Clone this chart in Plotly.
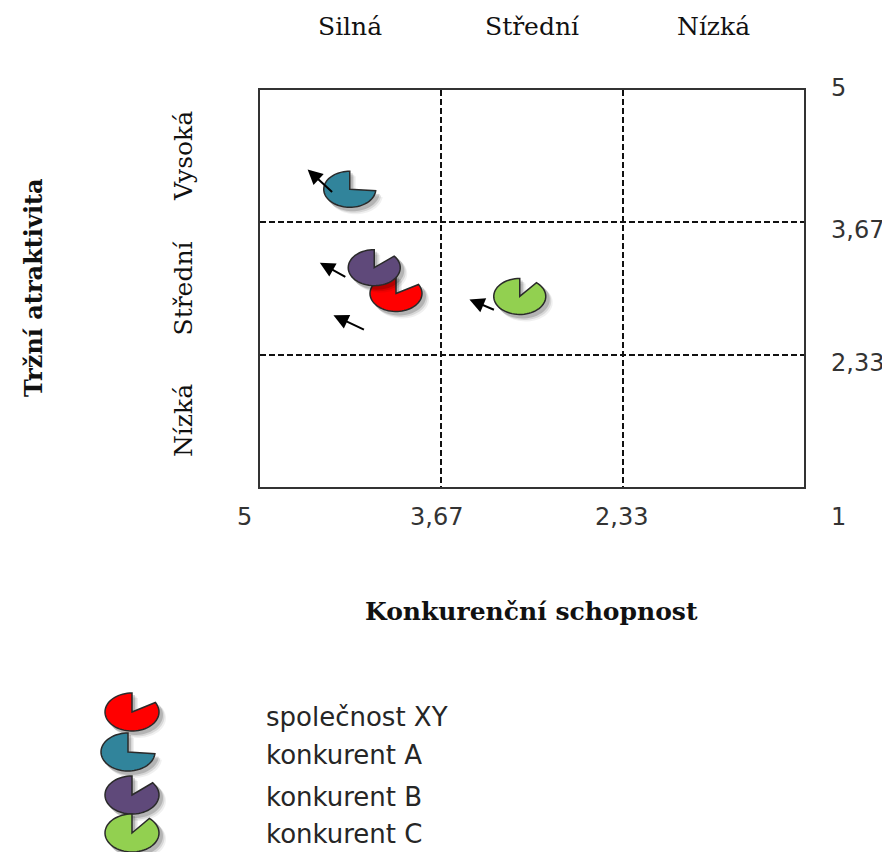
import numpy as np
import plotly.graph_objects as go

# ---------------- data ----------------
names = ["společnost XY", "konkurent A", "konkurent B", "konkurent C"]
competitiveness = [4.00, 4.34, 4.16, 3.09]      # Konkurenční schopnost (x)
attractiveness = [2.95, 4.00, 3.21, 2.92]       # Tržní atraktivita (y)
missing_slice_deg = [60, 95, 50, 40]            # missing wedge of each pie marker
colors = ["#FF0000", "#31849B", "#5F497A", "#92D050"]

arrow_head_x = [4.46, 4.65, 4.56, 3.46]
arrow_head_y = [2.73, 4.20, 3.26, 2.89]

x_ticks = [5, 3.67, 2.33, 1]
x_ticklabels = ["5", "3,67", "2,33", "1"]
y_ticks = [5, 3.67, 2.33]
y_ticklabels = ["5", "3,67", "2,33"]
boundaries = [5, 3.67, 2.33, 1]
col_labels = ["Silná", "Střední", "Nízká"]
row_labels = ["Vysoká", "Střední", "Nízká"]

# ---------------- layout constants ----------------
OFF = 8                       # page body margin of the browser
W, H = 890 - OFF, 852 - OFF
L, T = 260 - OFF, 90 - OFF
PW, PH = 544, 397
R, B = W - L - PW, H - T - PH
X_RANGE = [5, 1]
Y_RANGE = [1, 5]
kx = abs(X_RANGE[0] - X_RANGE[1]) / PW
ky = abs(Y_RANGE[1] - Y_RANGE[0]) / PH


def pp(px, py):
    """window pixel -> paper coordinates"""
    px -= OFF
    py -= OFF
    return (px - L) / PW, (T + PH - py) / PH


def pac_path_data(cx, cy, rx, ry, miss, ox=0, oy=0):
    th = np.radians(np.linspace(90 - miss, -270, 60))
    cxp = cx - ox * kx
    cyp = cy - oy * ky
    pts = [f"M {cxp},{cyp}"]
    for t in th:
        pts.append(f"L {cxp - rx * np.cos(t) * kx},{cyp + ry * np.sin(t) * ky}")
    return " ".join(pts) + " Z"


def pac_path_paper(px, py, rx, ry, miss, ox=0, oy=0):
    th = np.radians(np.linspace(90 - miss, -270, 60))
    cx, cy = pp(px + ox, py + oy)
    pts = [f"M {cx},{cy}"]
    for t in th:
        pts.append(f"L {cx + rx * np.cos(t) / PW},{cy + ry * np.sin(t) / PH}")
    return " ".join(pts) + " Z"


shadow_layers = [(6, 6, 0.06), (4.5, 4.5, 0.10), (3, 3, 0.16)]
RX, RY = 26, 18

shapes = []
for x, y, m, c in zip(competitiveness, attractiveness, missing_slice_deg, colors):
    for ox, oy, a in shadow_layers:
        shapes.append(dict(type="path", xref="x", yref="y",
                           path=pac_path_data(x, y, RX + 1, RY + 1, m, ox, oy),
                           fillcolor=f"rgba(0,0,0,{a})", line=dict(width=0)))
    shapes.append(dict(type="path", xref="x", yref="y",
                       path=pac_path_data(x, y, RX, RY, m),
                       fillcolor=c, line=dict(color="#2a2a2a", width=1.5)))

# legend icons
legend_icon_px = [(132, 712), (128, 752), (132, 795), (132, 833)]
legend_text_py = [717, 755, 797, 834]
for (px, py), m, c in zip(legend_icon_px, missing_slice_deg, colors):
    for ox, oy, a in shadow_layers:
        shapes.append(dict(type="path", xref="paper", yref="paper",
                           path=pac_path_paper(px, py, 28, 20, m, ox, oy),
                           fillcolor=f"rgba(0,0,0,{a})", line=dict(width=0)))
    shapes.append(dict(type="path", xref="paper", yref="paper",
                       path=pac_path_paper(px, py, 27, 19, m),
                       fillcolor=c, line=dict(color="#2a2a2a", width=1.5)))

annotations = []
# arrows
arrow_tail_offsets = [(32, 15), (26, 24), (27, 15), (26, 11)]
for hx, hy, (ax, ay) in zip(arrow_head_x, arrow_head_y, arrow_tail_offsets):
    annotations.append(dict(x=hx, y=hy, xref="x", yref="y", ax=ax, ay=ay,
                            showarrow=True, arrowhead=2, arrowsize=1.5,
                            arrowwidth=2, arrowcolor="#000000", text=""))

num_font = dict(family="DejaVu Sans", size=24, color="#333333")
serif_font = dict(family="DejaVu Serif", size=25, color="#111111")
bold_font = dict(family="DejaVu Serif", size=25, color="#111111", weight="bold")

# x tick labels
x_shift = [-16, -4, -2, 34]
_, y_lab = pp(0, 517)
for v, t, s in zip(x_ticks, x_ticklabels, x_shift):
    annotations.append(dict(x=v, y=y_lab, xref="x", yref="paper", text=t,
                            showarrow=False, xshift=s, font=num_font,
                            xanchor="center", yanchor="middle"))
# y tick labels (right side)
x_lab, _ = pp(829, 0)
y_shift = [2, -8, -8]
for v, t, s in zip(y_ticks, y_ticklabels, y_shift):
    annotations.append(dict(x=x_lab, y=v, xref="paper", yref="y", text=t,
                            showarrow=False, yshift=s, font=num_font,
                            xanchor="left", yanchor="middle"))

# column labels on top
_, y_top = pp(0, 27)
for i, t in enumerate(col_labels):
    xm = (boundaries[i] + boundaries[i + 1]) / 2
    annotations.append(dict(x=xm, y=y_top, xref="x", yref="paper", text=t,
                            showarrow=False, font=serif_font,
                            xanchor="center", yanchor="middle"))
# row labels on left
x_row, _ = pp(183, 0)
for i, t in enumerate(row_labels):
    ym = (boundaries[i] + boundaries[i + 1]) / 2
    annotations.append(dict(x=x_row, y=ym, xref="paper", yref="y", text=t,
                            showarrow=False, font=serif_font, textangle=-90,
                            xanchor="center", yanchor="middle"))

# axis titles
tx, ty = pp(33, 288)
annotations.append(dict(x=tx, y=ty, xref="paper", yref="paper",
                        text="Tržní atraktivita", showarrow=False,
                        font=dict(bold_font, size=24), textangle=-90,
                        xanchor="center", yanchor="middle"))
tx, ty = pp(531, 611)
annotations.append(dict(x=tx, y=ty, xref="paper", yref="paper",
                        text="Konkurenční schopnost", showarrow=False,
                        font=dict(bold_font, size=25),
                        xanchor="center", yanchor="middle"))

# legend texts
leg_font = dict(family="DejaVu Sans", size=26, color="#262626")
lx, _ = pp(265, 0)
for n, py in zip(names, legend_text_py):
    _, ly = pp(0, py)
    annotations.append(dict(x=lx, y=ly, xref="paper", yref="paper", text=n,
                            showarrow=False, font=leg_font, borderpad=0,
                            xanchor="left", yanchor="middle"))

fig = go.Figure()
fig.add_trace(go.Scatter(x=competitiveness, y=attractiveness, mode="markers",
                         marker=dict(size=30, opacity=0), text=names,
                         hoverinfo="text", showlegend=False))

axis_common = dict(showticklabels=False, ticks="", showgrid=True,
                   gridcolor="#111111", griddash="6px,3px", gridwidth=2,
                   showline=True, mirror=True, linecolor="#333333",
                   linewidth=2, zeroline=False, fixedrange=True)
fig.update_layout(
    width=W, height=H,
    margin=dict(l=L, r=R, t=T, b=B, pad=0),
    paper_bgcolor="white", plot_bgcolor="white",
    xaxis=dict(range=X_RANGE, tickvals=[3.67, 2.33], **axis_common),
    yaxis=dict(range=Y_RANGE, tickvals=[3.67, 2.33], **axis_common),
    shapes=shapes, annotations=annotations, showlegend=False,
)

fig.write_html("out.html")
